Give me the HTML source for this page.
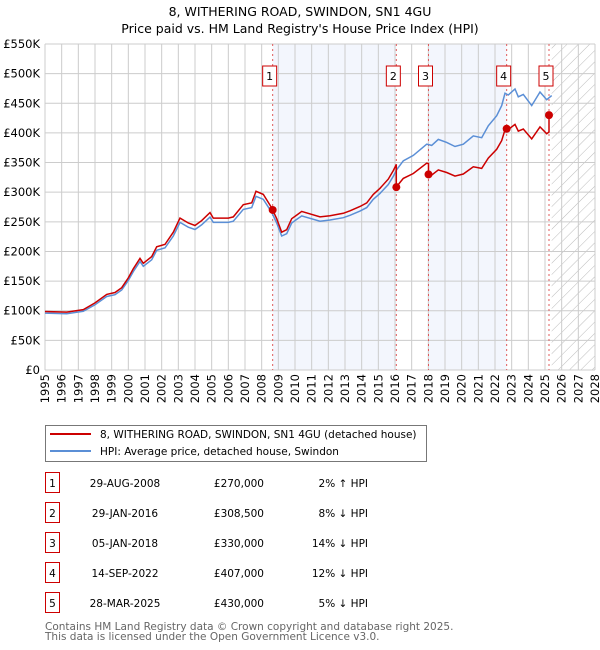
<!DOCTYPE html>
<html><head><meta charset="utf-8"><style>
body{margin:0;background:#fff;}
svg{display:block;font-family:"DejaVu Sans","Liberation Sans",sans-serif;}
</style></head><body>
<svg id="c" width="600" height="650"></svg>
<script>
const hpiYears=[1995,1996.3,1997.3,1998,1998.7,1999.2,1999.6,2000,2000.3,2000.7,2000.9,2001.4,2001.7,2002.2,2002.7,2003.1,2003.6,2004,2004.4,2004.9,2005.1,2005.5,2006,2006.3,2006.9,2007.4,2007.66,2008.1,2008.6,2008.9,2009.2,2009.5,2009.8,2010.1,2010.4,2011.5,2012.1,2012.9,2013.3,2013.9,2014.3,2014.7,2015.1,2015.6,2015.9,2016.1,2016.5,2017.1,2017.9,2018.2,2018.6,2019.1,2019.6,2020.1,2020.7,2021.2,2021.6,2022.1,2022.4,2022.6,2022.8,2023.2,2023.4,2023.7,2024.2,2024.7,2025.1,2025.4];
const hpiValues=[96,95,99,110,124,127,135,151,166,183,175,186,202,206,226,249,241,237,245,258,249,249,249,251,271,274,293,288,266,248,226,230,248,254,260,251,253,257,261,268,274,288,298,313,327,338,353,362,381,379,389,384,377,381,395,392,412,429,446,467,464,474,461,465,446,469,456,463];
const saleYears=[2008.66,2016.08,2018.01,2022.7,2025.24];
const salePrices=[270,308.5,330,407,430];
const saleLabels=["1","2","3","4","5"];
const saleDates=["29-AUG-2008","29-JAN-2016","05-JAN-2018","14-SEP-2022","28-MAR-2025"];
const salePriceText=["£270,000","£308,500","£330,000","£407,000","£430,000"];
const saleHpiText=["2% ↑ HPI","8% ↓ HPI","14% ↓ HPI","12% ↓ HPI","5% ↓ HPI"];
const yTicks=[0,50,100,150,200,250,300,350,400,450,500,550];
const yTickLabels=["£0","£50K","£100K","£150K","£200K","£250K","£300K","£350K","£400K","£450K","£500K","£550K"];

const NS="http://www.w3.org/2000/svg";
const svg=document.getElementById('c');
const X0=45,X1=595,Y0=370,Y1=44,YR0=1995,YR1=2028,VMAX=550;
const xs=y=>X0+(y-YR0)/(YR1-YR0)*(X1-X0);
const ys=v=>Y0-v/VMAX*(Y0-Y1);
function el(t,a,p){const e=document.createElementNS(NS,t);for(const k in a)e.setAttribute(k,a[k]);(p||svg).appendChild(e);return e;}
function txt(s,a,p){const e=el('text',a,p);e.textContent=s;return e;}
function hpiAt(y){for(let i=0;i<hpiYears.length-1;i++){if(y<=hpiYears[i+1]){const t=(y-hpiYears[i])/(hpiYears[i+1]-hpiYears[i]);return hpiValues[i]+t*(hpiValues[i+1]-hpiValues[i]);}}return hpiValues[hpiValues.length-1];}

let t=txt("8, WITHERING ROAD, SWINDON, SN1 4GU",{x:300,y:16,'text-anchor':'middle','font-size':12.5,fill:'#000'});

t=txt("Price paid vs. HM Land Registry's House Price Index (HPI)",{x:300,y:33,'text-anchor':'middle','font-size':12.5,fill:'#000'});


[[0,1],[2,3]].forEach(([a,b])=>{const r=el('rect',{x:xs(saleYears[a]),y:Y1,width:xs(saleYears[b])-xs(saleYears[a]),height:Y0-Y1,fill:'#f3f6fd'});
});
const defs=el('defs',{});
const pat=el('pattern',{id:'h',width:8,height:8,patternUnits:'userSpaceOnUse',patternTransform:'rotate(45)'},defs);
el('line',{x1:0,y1:0,x2:0,y2:8,stroke:'#bbb','stroke-width':1},pat);
const hx=xs(hpiYears[hpiYears.length-1]);
let hr=el('rect',{x:hx,y:Y1,width:X1-hx,height:Y0-Y1,fill:'url(#h)'});


for(let y=YR0;y<=YR1;y++){const l=el('line',{x1:xs(y),x2:xs(y),y1:Y1,y2:Y0,stroke:'#ccc','stroke-width':1});

const tx=txt(String(y),{transform:`translate(${xs(y)+4},${Y0+4}) rotate(-90)`,'text-anchor':'end','font-size':11.5,fill:'#000'});
}
yTicks.forEach((v,i)=>{const l=el('line',{x1:X0,x2:X1,y1:ys(v),y2:ys(v),stroke:'#ccc','stroke-width':1});

const tx=txt(yTickLabels[i],{x:X0-5,y:ys(v)+4,'text-anchor':'end','font-size':11.5,fill:'#000'});
});

saleYears.forEach((sy,i)=>{const x=xs(sy);
const l=el('line',{x1:x,x2:x,y1:Y1,y2:Y0,stroke:'#e05a5a','stroke-width':1,'stroke-dasharray':'2,3'});

const g=el('g',{});
el('rect',{x:x-10,y:66,width:14,height:20,fill:'#fff',stroke:'#c00','stroke-width':1},g);
txt(saleLabels[i],{x:x-3,y:80,'text-anchor':'middle','font-size':11,fill:'#000'},g);});

let d=hpiYears.map((y,i)=>(i?'L':'M')+xs(y).toFixed(1)+','+ys(hpiValues[i]).toFixed(1)).join('');
let p=el('path',{d,fill:'none',stroke:'#5b8fd6','stroke-width':1.5});

let pts=[];
const segStart=[YR0].concat(saleYears);
for(let s=0;s<segStart.length;s++){
 const idx=Math.max(0,s-1);
 const f=salePrices[idx]/hpiAt(saleYears[idx]);
 const a=segStart[s],b=s+1<segStart.length?segStart[s+1]:hpiYears[hpiYears.length-1];
 const ys_=[a].concat(hpiYears.filter(y=>y>a&&y<b)).concat([b]);
 ys_.forEach(y=>pts.push([y,hpiAt(y)*f]));
}
d=pts.map((q,i)=>(i?'L':'M')+xs(q[0]).toFixed(1)+','+ys(q[1]).toFixed(1)).join('');
p=el('path',{d,fill:'none',stroke:'#cc0000','stroke-width':1.5});

saleYears.forEach((sy,i)=>{const c=el('circle',{cx:xs(sy),cy:ys(salePrices[i]),r:4,fill:'#cc0000'});
});

const lg=el('g',{});
el('rect',{x:45.5,y:425.5,width:381,height:36,fill:'#fff',stroke:'#777'},lg);
el('line',{x1:50,x2:91,y1:434,y2:434,stroke:'#cc0000','stroke-width':2},lg);
txt("8, WITHERING ROAD, SWINDON, SN1 4GU (detached house)",{x:100,y:438,'font-size':10.5},lg);
el('line',{x1:50,x2:91,y1:451,y2:451,stroke:'#5b8fd6','stroke-width':2},lg);
txt("HPI: Average price, detached house, Swindon",{x:100,y:455,'font-size':10.5},lg);

saleLabels.forEach((s,i)=>{const cy=483+30*i;
const g=el('g',{});
el('rect',{x:45.5,y:cy-10.5,width:14,height:20,fill:'#fff',stroke:'#c00'},g);
txt(s,{x:52.5,y:cy+4,'text-anchor':'middle','font-size':10.5},g);
txt(saleDates[i],{x:125,y:cy+4,'text-anchor':'middle','font-size':10.5},g);
txt(salePriceText[i],{x:264,y:cy+4,'text-anchor':'end','font-size':10.5},g);
txt(saleHpiText[i],{x:368,y:cy+4,'text-anchor':'end','font-size':10.5},g);});
t=txt("Contains HM Land Registry data © Crown copyright and database right 2025.",{x:45,y:630,'font-size':10.5,fill:'#666'});

t=txt("This data is licensed under the Open Government Licence v3.0.",{x:45,y:640,'font-size':10.5,fill:'#666'});

</script>
</body></html>
